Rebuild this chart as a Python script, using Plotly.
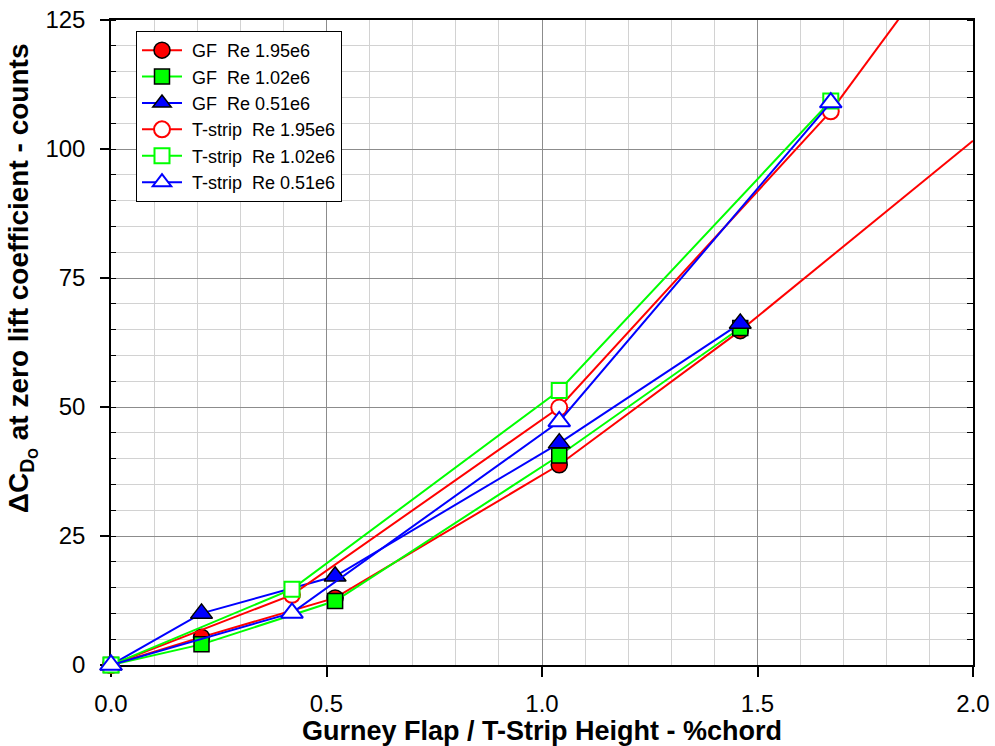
import plotly.graph_objects as go

# ---- data ----
x_gf = [0.0, 0.21, 0.52, 1.04, 1.46]
gf_re195 = [0.0, 5.4, 13.0, 38.8, 64.8]
gf_re102 = [0.0, 4.0, 12.4, 40.6, 65.3]
gf_re051 = [0.0, 10.0, 17.2, 43.0, 66.2]

x_ts = [0.0, 0.42, 1.04, 1.67]
ts_re195 = [0.0, 13.6, 49.9, 107.3]
ts_re102 = [0.0, 14.7, 53.2, 109.3]
ts_re051 = [0.0, 10.1, 47.2, 109.0]

# continuation of the Re 1.95e6 curves beyond the last measured point
x_gf_ext = [1.46, 2.0]
gf_re195_ext = [64.8, 101.6]
x_ts_ext = [1.67, 2.0]
ts_re195_ext = [107.3, 144.7]

x_ticks = [0.0, 0.5, 1.0, 1.5, 2.0]
x_tick_text = ["0.0", "0.5", "1.0", "1.5", "2.0"]
y_ticks = [0, 25, 50, 75, 100, 125]

series_names = ["GF  Re 1.95e6", "GF  Re 1.02e6", "GF  Re 0.51e6",
                "T-strip  Re 1.95e6", "T-strip  Re 1.02e6", "T-strip  Re 0.51e6"]

RED, GREEN, BLUE = "#ff0000", "#00ff00", "#0000ff"
FONT = "Liberation Sans, Arial, sans-serif"
PAD = "\u00a0"

fig = go.Figure()

# extension lines (no markers)
fig.add_trace(go.Scatter(x=x_gf_ext, y=gf_re195_ext, mode="lines",
                         line=dict(color=RED, width=2), showlegend=False, hoverinfo="skip"))
fig.add_trace(go.Scatter(x=x_ts_ext, y=ts_re195_ext, mode="lines",
                         line=dict(color=RED, width=2), showlegend=False, hoverinfo="skip"))

def filled(x, y, color, symbol, name, size):
    return go.Scatter(x=x, y=y, mode="lines+markers", name=PAD + name, cliponaxis=False,
                      line=dict(color=color, width=2),
                      marker=dict(symbol=symbol, size=size, color=color,
                                  line=dict(color="black", width=1.5)))

def hollow(x, y, color, symbol, name, size):
    return go.Scatter(x=x, y=y, mode="lines+markers", name=PAD + name, cliponaxis=False,
                      line=dict(color=color, width=2),
                      marker=dict(symbol=symbol, size=size, color="white",
                                  line=dict(color=color, width=2)))

fig.add_trace(filled(x_gf, gf_re195, RED, "circle", series_names[0], 16))
fig.add_trace(filled(x_gf, gf_re102, GREEN, "square", series_names[1], 15))
fig.add_trace(filled(x_gf, gf_re051, BLUE, "triangle-up", series_names[2], 19))
fig.add_trace(hollow(x_ts, ts_re195, RED, "circle", series_names[3], 16))
fig.add_trace(hollow(x_ts, ts_re102, GREEN, "square", series_names[4], 15))
fig.add_trace(hollow(x_ts, ts_re051, BLUE, "triangle-up", series_names[5], 19))

# invisible anchor so the right-hand (mirror) axis with inside minor ticks is drawn
fig.add_trace(go.Scatter(x=[0.0], y=[0.0], yaxis="y2", mode="markers",
                         marker=dict(opacity=0), showlegend=False, hoverinfo="skip"))

fig.update_layout(
    width=995, height=746,
    margin=dict(l=111, r=22, t=20, b=81, autoexpand=False),
    paper_bgcolor="white", plot_bgcolor="white",
    font=dict(family=FONT, size=22, color="black"),
    showlegend=True,
    legend=dict(x=0.029, y=0.983, xanchor="left", yanchor="top",
                bgcolor="white", bordercolor="black", borderwidth=1,
                font=dict(family=FONT, size=18, color="black"),
                tracegroupgap=0, itemwidth=40),
    xaxis=dict(
        range=[0, 2.0], tickvals=x_ticks, ticktext=x_tick_text, automargin=False,
        showline=True, linecolor="black", linewidth=1.5, mirror=True,
        ticks="outside", ticklen=10, tickwidth=1.5, tickcolor="black",
        ticklabelstandoff=6,
        showgrid=True, gridcolor="#8c8c8c", gridwidth=1,
        minor=dict(dtick=0.1, showgrid=True, gridcolor="#d2d2d2", gridwidth=1, ticks=""),
        zeroline=False, layer="below traces",
        tickfont=dict(size=24),
        title=dict(text="<b>Gurney Flap / T-Strip Height - %chord</b>",
                   font=dict(size=27), standoff=6),
    ),
    yaxis=dict(
        range=[0, 125], tickvals=y_ticks, automargin=False,
        showline=True, linecolor="black", linewidth=1.5, mirror=True,
        ticks="outside", ticklen=9, tickwidth=1.5, tickcolor="black",
        ticklabelstandoff=10,
        showgrid=True, gridcolor="#8c8c8c", gridwidth=1,
        minor=dict(dtick=5, showgrid=True, gridcolor="#d2d2d2", gridwidth=1,
                   ticks="inside", ticklen=5, tickwidth=1, tickcolor="black"),
        zeroline=False, layer="below traces",
        tickfont=dict(size=24),
    ),
    yaxis2=dict(
        overlaying="y", side="right", range=[0, 125], showgrid=False, automargin=False,
        showticklabels=False, ticks="", showline=False, zeroline=False,
        minor=dict(dtick=5, ticks="inside", ticklen=6, tickwidth=1, tickcolor="black", showgrid=False),
    ),
    annotations=[dict(
        text="<b>ΔC<sub>D<sub>O</sub></sub> at zero lift coefficient - counts</b>",
        xref="paper", yref="paper", x=-0.103, y=0.6, xanchor="center", yanchor="middle",
        textangle=-90, showarrow=False, font=dict(family=FONT, size=28, color="black"),
    )],
)

fig.write_html("out.html")
